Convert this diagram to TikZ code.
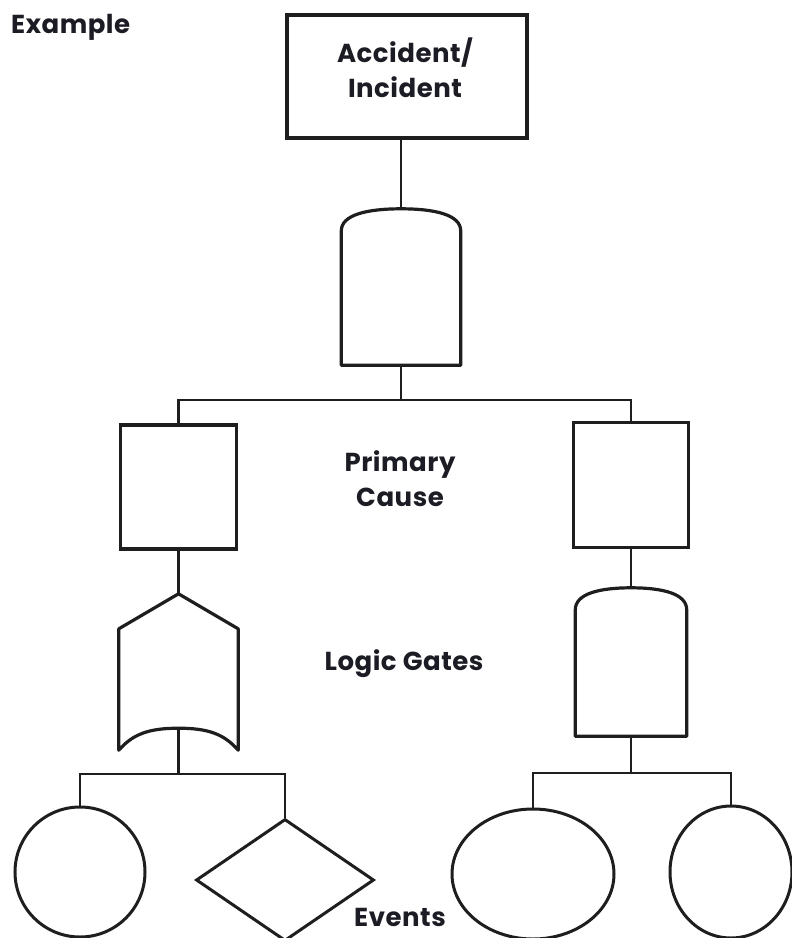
\documentclass[tikz,border=0pt]{standalone}
\usepackage{fontspec}
\setmainfont{Poppins}[LetterSpace=2]
\usetikzlibrary{shapes.geometric,calc}
\definecolor{ink}{HTML}{1E1E1E}
\definecolor{textink}{HTML}{1C1C24}
\begin{document}
\begin{tikzpicture}[x=1pt,y=-1pt,
  causebox/.style={draw=ink,line width=3.6pt,inner sep=0pt,rectangle},
  gate/.style={rectangle,inner sep=0pt,draw=none},
  outline/.style={draw=ink,line width=3.2pt,line join=round,line cap=round},
  wire/.style={draw=ink,line width=2.4pt},
  eventshape/.style={draw=ink,line width=3pt,inner sep=0pt},
  caption/.style={font=\bfseries\fontsize{26}{35}\selectfont,text=textink,align=center,inner sep=0pt}]
\useasboundingbox (0,0) rectangle (792,938);

% heading
\node[caption,anchor=base west] (title) at (11,33) {Example};

% top event
\node[causebox,minimum width=240pt,minimum height=123pt] (top) at (407,76.5) {};
\node[caption] (toptext) at (405,68) {Accident/\\Incident};

% AND gate under the top event
\node[gate,minimum width=119pt,minimum height=156pt] (and1) at (401,287) {};
\draw[outline] (and1.south west) -- ($(and1.north west)+(0,22)$)
  .. controls ($(and1.north west)+(0,6)$) and ($(and1.north)+(-34,0)$) .. (and1.north)
  .. controls ($(and1.north)+(34,0)$) and ($(and1.north east)+(0,6)$) .. ($(and1.north east)+(0,22)$)
  -- (and1.south east) -- cycle;
\draw[wire] (and1.north) -- (and1.north |- top.south);

% primary causes
\node[causebox,minimum width=116pt,minimum height=124pt] (p1) at (178.5,487) {};
\node[causebox,minimum width=115pt,minimum height=125pt] (p2) at (631,485) {};
\coordinate (bus1) at (401,400);
\draw[wire] (and1.south) -- (bus1);
\draw[wire] (p1.north) |- (bus1) -| (p2.north);
\node[caption] (cause) at (400,479) {Primary\\Cause};

% OR gate on the left branch
\node[gate,minimum width=119pt,minimum height=156pt] (or1) at (178.5,672) {};
\draw[outline] (or1.south west) -- ($(or1.north west)+(0,35)$) -- (or1.north)
  -- ($(or1.north east)+(0,35)$) -- (or1.south east)
  .. controls ($(or1.south east)+(-14,-16)$) and ($(or1.south)+(30,-22)$) .. ($(or1.south)+(0,-22)$)
  .. controls ($(or1.south)+(-30,-22)$) and ($(or1.south west)+(14,-16)$) .. (or1.south west);
\coordinate (or1in) at ($(or1.south)+(0,-22)$);
\draw[wire] (p1.south) -- (or1.north);

% AND gate on the right branch
\node[gate,minimum width=111pt,minimum height=148pt] (and2) at (631,662) {};
\draw[outline] (and2.south west) -- ($(and2.north west)+(0,22)$)
  .. controls ($(and2.north west)+(0,6)$) and ($(and2.north)+(-32,0)$) .. (and2.north)
  .. controls ($(and2.north)+(32,0)$) and ($(and2.north east)+(0,6)$) .. ($(and2.north east)+(0,22)$)
  -- (and2.south east) -- cycle;
\draw[wire] (p2.south) -- (and2.north);

\node[caption,anchor=base] (gates) at (404,670) {Logic Gates};

% basic events
\node[eventshape,ellipse,minimum width=130pt,minimum height=130pt] (e1) at (80,872) {};
\node[eventshape,diamond,minimum width=178pt,minimum height=122pt] (e2) at (285,880) {};
\node[eventshape,ellipse,minimum width=162pt,minimum height=130pt] (e3) at (533,874) {};
\node[eventshape,ellipse,minimum width=122pt,minimum height=132pt] (e4) at (731,872) {};

\coordinate (bus2) at (178.5,774);
\draw[wire] (or1in) -- (bus2);
\draw[wire] (e1.north) |- (bus2) -| (e2.north);

\coordinate (bus3) at (631,773);
\draw[wire] (and2.south) -- (bus3);
\draw[wire] (e3.north) |- (bus3) -| (e4.north);

\node[caption,anchor=base] (events) at (400,926) {Events};
\end{tikzpicture}
\end{document}
